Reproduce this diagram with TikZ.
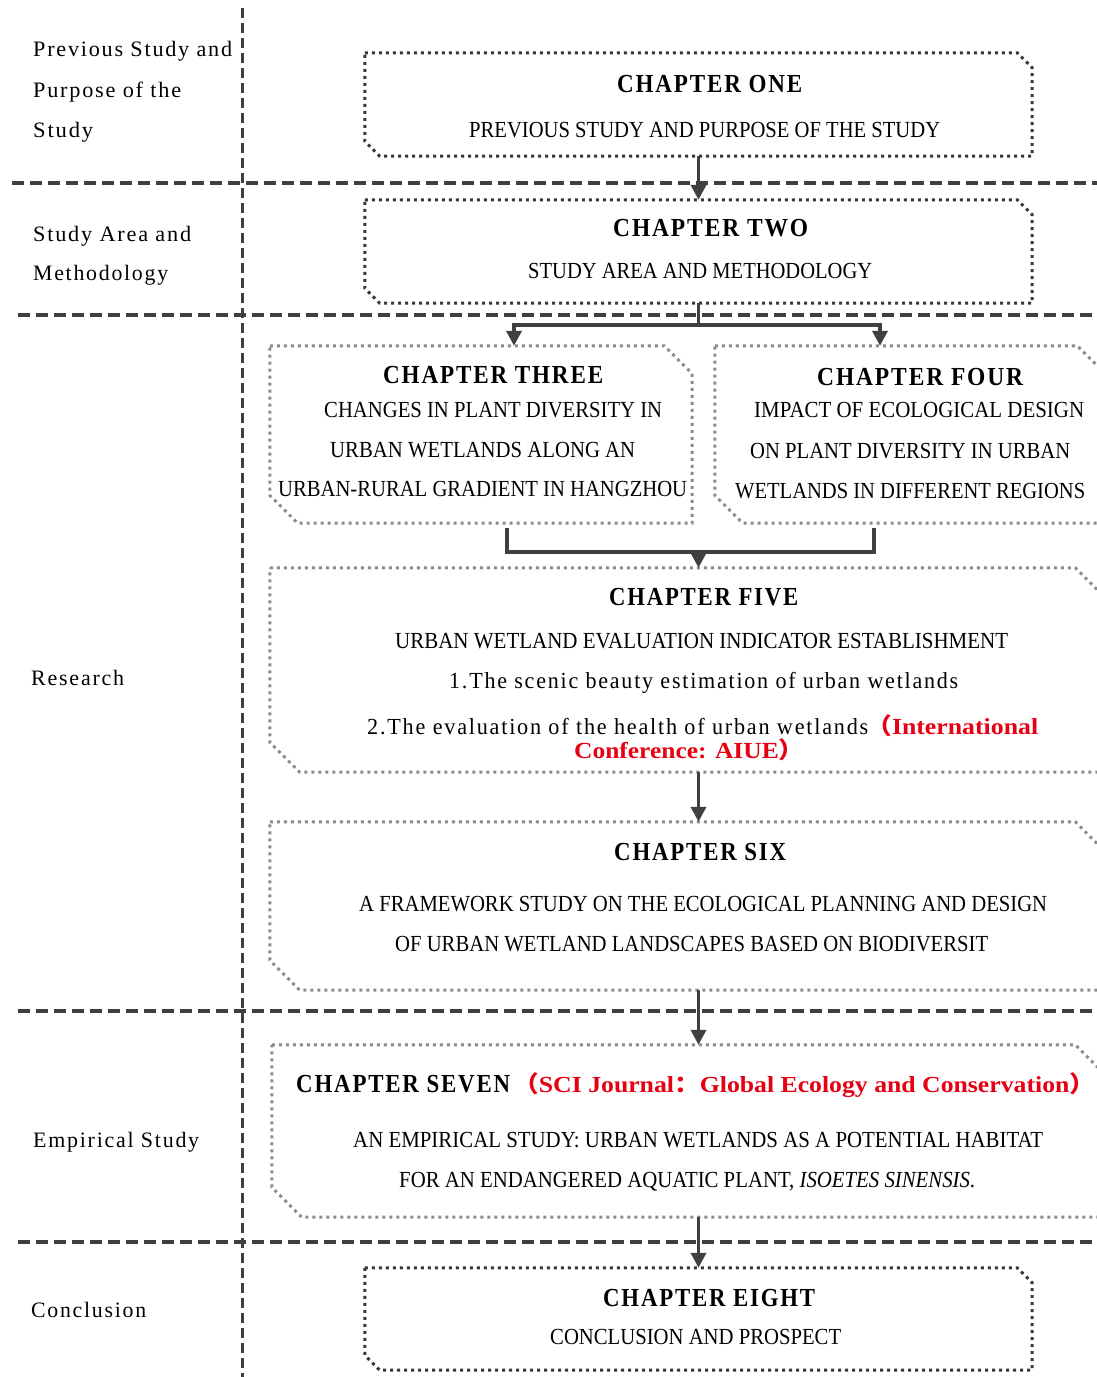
\documentclass[tikz,border=0pt]{standalone}
\usepackage{graphicx}
\usepackage{fontspec}
\setmainfont{Liberation Serif}
\newfontfamily\spaced{Liberation Serif}[LetterSpace=8]
\newfontfamily\cjk{Noto Sans CJK SC}
\usetikzlibrary{arrows.meta}
\definecolor{lineg}{HTML}{404040}
\definecolor{dotdark}{HTML}{383838}
\definecolor{dotgray}{HTML}{8C8C8C}
\definecolor{redt}{HTML}{E60012}
\newlength\fitlen
\newcommand\fitw[2]{\settowidth\fitlen{#2}\pgfmathsetmacro\fitr{#1/\fitlen}\scalebox{\fitr}[1]{#2}}
\newcommand\chbox[3]{\draw[#3] (#1.north west) -- ([xshift=-#2]#1.north east) -- ([yshift=-#2]#1.north east) -- (#1.south east) -- ([xshift=#2]#1.south west) -- ([yshift=#2]#1.south west) -- cycle;}
\tikzset{
  x=1pt, y=-1pt,
  frame/.style={rectangle, draw=none, inner sep=0pt},
  sep/.style={draw=lineg, line width=3.5pt, dash pattern=on 12pt off 6pt},
  vsep/.style={draw=lineg, line width=3pt, dash pattern=on 10pt off 5pt},
  darkdots/.style={draw=dotdark, line width=3pt, dash pattern=on 3pt off 4pt},
  graydots/.style={draw=dotgray, line width=3pt, dash pattern=on 3pt off 4pt},
  conn/.style={draw=lineg, line width=3.5pt},
  arr/.style={conn, -{Triangle[length=15pt,width=15pt]}},
  lbl/.style={inner sep=0pt, anchor=base west, font=\fontsize{22}{26}\selectfont\spaced},
  ttl/.style={inner sep=0pt, anchor=base west, font=\fontsize{26}{30}\selectfont\spaced\bfseries},
  sub/.style={inner sep=0pt, anchor=base west, font=\fontsize{23}{27}\selectfont},
  mix/.style={inner sep=0pt, anchor=base west, font=\fontsize{23}{27}\selectfont\spaced},
  redb/.style={inner sep=0pt, anchor=base west, text=redt, font=\fontsize{23}{27}\selectfont\bfseries},
}
\begin{document}
\begin{tikzpicture}
\useasboundingbox (0,0) rectangle (1097,1377);
\fill[white] (0,0) rectangle (1097,1377);

% separators
\draw[vsep] (242,8) -- (242,1377);
\draw[sep] (12,183) -- (1097,183);
\draw[sep] (18,315) -- (1097,315);
\draw[sep] (18,1011) -- (1097,1011);
\draw[sep] (18,1242) -- (1097,1242);

% left labels
\node[lbl] (l1a) at (33,56) {\fitw{199pt}{Previous Study and}};
\node[lbl] (l1b) at (33,97) {\fitw{148pt}{Purpose of the}};
\node[lbl] (l1c) at (33,137) {\fitw{60pt}{Study}};
\node[lbl] (l2a) at (33,241) {\fitw{158pt}{Study Area and}};
\node[lbl] (l2b) at (33,280) {\fitw{135pt}{Methodology}};
\node[lbl] (l3) at (31,685) {\fitw{93pt}{Research}};
\node[lbl] (l4) at (33,1147) {\fitw{166pt}{Empirical Study}};
\node[lbl] (l5) at (31,1317) {\fitw{115pt}{Conclusion}};

% boxes
\node[frame, minimum width=667pt, minimum height=103pt] (b1) at (698.5,104.5) {};
\node[frame, minimum width=667pt, minimum height=103pt] (b2) at (698.5,251.5) {};
\node[frame, minimum width=422pt, minimum height=177pt] (b3) at (481,434.5) {};
\node[frame, minimum width=390pt, minimum height=177pt] (b4) at (910,434.5) {};
\node[frame, minimum width=835pt, minimum height=204pt] (b5) at (687.5,670) {};
\node[frame, minimum width=835pt, minimum height=168pt] (b6) at (687.5,906) {};
\node[frame, minimum width=833pt, minimum height=172pt] (b7) at (688.5,1131) {};
\node[frame, minimum width=667pt, minimum height=102pt] (b8) at (698.5,1319) {};

\chbox{b1}{15pt}{darkdots}
\chbox{b2}{15pt}{darkdots}
\chbox{b3}{28pt}{graydots}
\chbox{b4}{28pt}{graydots}
\chbox{b5}{30pt}{graydots}
\chbox{b6}{30pt}{graydots}
\chbox{b7}{30pt}{graydots}
\chbox{b8}{15pt}{darkdots}

% box texts
\node[ttl] (t1) at (617,92) {\fitw{185pt}{CHAPTER ONE}};
\node[sub] (s1) at (469,137) {\fitw{471pt}{PREVIOUS STUDY AND PURPOSE OF THE STUDY}};
\node[ttl] (t2) at (613,236) {\fitw{195pt}{CHAPTER TWO}};
\node[sub] (s2) at (528,278) {\fitw{344pt}{STUDY AREA AND METHODOLOGY}};

\node[ttl] (t3) at (383,383) {\fitw{220pt}{CHAPTER THREE}};
\node[sub] (s3a) at (324,417) {\fitw{338pt}{CHANGES IN PLANT DIVERSITY IN}};
\node[sub] (s3b) at (330,457) {\fitw{305pt}{URBAN WETLANDS ALONG AN}};
\node[sub] (s3c) at (278,496) {\fitw{409pt}{URBAN-RURAL GRADIENT IN HANGZHOU}};

\node[ttl] (t4) at (817,385) {\fitw{206pt}{CHAPTER FOUR}};
\node[sub] (s4a) at (754,417) {\fitw{330pt}{IMPACT OF ECOLOGICAL DESIGN}};
\node[sub] (s4b) at (750,458) {\fitw{320pt}{ON PLANT DIVERSITY IN URBAN}};
\node[sub] (s4c) at (735,498) {\fitw{350pt}{WETLANDS IN DIFFERENT REGIONS}};

\node[ttl] (t5) at (609,605) {\fitw{189pt}{CHAPTER FIVE}};
\node[sub] (s5a) at (395,648) {\fitw{613pt}{URBAN WETLAND EVALUATION INDICATOR ESTABLISHMENT}};
\node[mix] (s5b) at (449,688) {\fitw{509pt}{1.The scenic beauty estimation of urban wetlands}};
\node[mix] (s5c) at (367,734) {\fitw{501pt}{2.The evaluation of the health of urban wetlands}};
\node[redb] (r5a) at (866,734) {\fitw{172pt}{{\cjk （}International}};
\node[redb] (r5b) at (574,758) {\fitw{230pt}{Conference: AIUE{\cjk ）}}};

\node[ttl] (t6) at (614,860) {\fitw{172pt}{CHAPTER SIX}};
\node[sub] (s6a) at (359,911) {\fitw{688pt}{A FRAMEWORK STUDY ON THE ECOLOGICAL PLANNING AND DESIGN}};
\node[sub] (s6b) at (395,951) {\fitw{593pt}{OF URBAN WETLAND LANDSCAPES BASED ON BIODIVERSIT}};

\node[ttl] (t7) at (296,1092) {\fitw{214pt}{CHAPTER SEVEN}};
\node[redb] (r7) at (513,1092) {\fitw{582pt}{{\cjk （}SCI Journal{\cjk ：}Global Ecology and Conservation{\cjk ）}}};
\node[sub] (s7a) at (353,1147) {\fitw{690pt}{AN EMPIRICAL STUDY: URBAN WETLANDS AS A POTENTIAL HABITAT}};
\node[sub] (s7b) at (399,1187) {\fitw{576pt}{FOR AN ENDANGERED AQUATIC PLANT, \textit{ISOETES SINENSIS}.}};

\node[ttl] (t8) at (603,1306) {\fitw{212pt}{CHAPTER EIGHT}};
\node[sub] (s8) at (550,1344) {\fitw{291pt}{CONCLUSION AND PROSPECT}};

% connectors
\draw[arr] (b1.south) -- (b2.north);
\draw[conn] (b2.south) -- ++(0,22) coordinate (split);
\draw[arr] (split) -| ([xshift=33pt]b3.north);
\draw[arr] (split) -| ([xshift=-30pt]b4.north);
\draw[conn] ([xshift=26pt,yshift=-5pt]b3.south) |- ([yshift=-29pt]b3.south -| b1.south) coordinate (merge) -| ([xshift=-36pt,yshift=-5pt]b4.south);
\draw[arr] (merge) -- (b1.south |- b5.north);
\draw[arr] (b1.south |- b5.south) -- (b1.south |- b6.north);
\draw[arr] (b1.south |- b6.south) -- (b1.south |- b7.north);
\draw[arr] (b1.south |- b7.south) -- (b8.north);
\end{tikzpicture}
\end{document}
